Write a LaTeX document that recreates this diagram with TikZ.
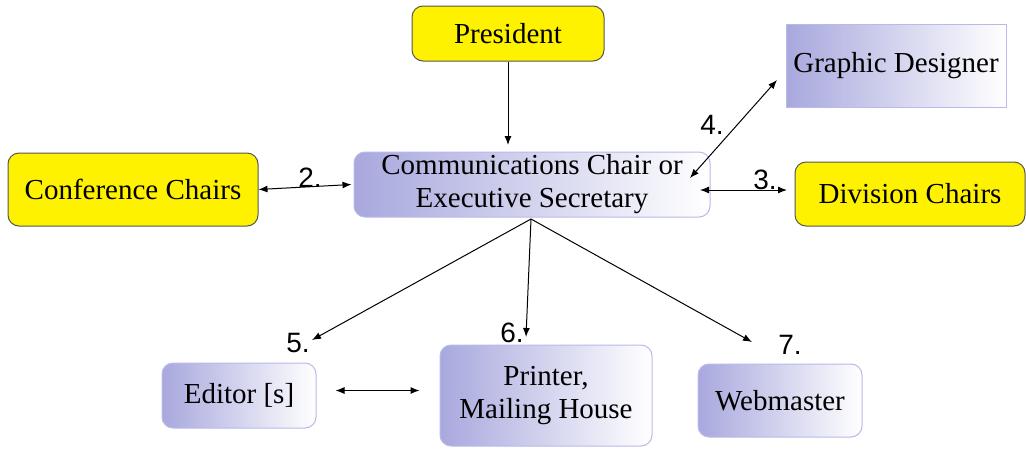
\documentclass[tikz,border=0pt]{standalone}
\usepackage{fontspec}
\setmainfont{Liberation Serif}
\setsansfont{Liberation Sans}
\usetikzlibrary{arrows.meta,positioning,calc}
\definecolor{boxblue}{RGB}{168,168,222}
\definecolor{edgeblue}{RGB}{185,185,235}
\definecolor{edgegray}{RGB}{85,85,85}
\tikzset{
yellowbox/.style = {draw=edgegray, fill=yellow, rectangle, rounded corners=11pt, line width=1pt, font=\fontsize{29}{33}\selectfont, align=center, inner sep=0pt},
bluebox/.style = {draw=edgeblue, left color=boxblue, right color=white, rectangle, rounded corners=11pt, line width=1pt, font=\fontsize{29}{33}\selectfont, align=center, inner sep=0pt},
squarebox/.style = {draw=edgeblue, left color=boxblue, right color=white, rectangle, line width=1pt, font=\fontsize{29}{33}\selectfont, align=center, inner sep=0pt},
num/.style = {font=\sffamily\fontsize{28}{30}\selectfont, inner sep=0pt},
tmp/.style = {coordinate},
link/.style = {line width=1pt, >={Latex[length=9pt,width=7pt]}}
}
\begin{document}
\begin{tikzpicture}[x=1pt, y=-1pt]
\useasboundingbox (0,0) rectangle (1026,448);
% boxes
\node[yellowbox, minimum width=192pt, minimum height=55pt] (president) at (508,33.5) {President};
\node[bluebox, minimum width=356pt, minimum height=65pt] (comm) at (532,184.5) {Communications Chair or\\Executive Secretary};
\node[squarebox, minimum width=220pt, minimum height=83pt] (designer) at (896,65.5) {Graphic Designer};
\node[yellowbox, minimum width=250pt, minimum height=73pt] (confchairs) at (133,189.5) {Conference Chairs};
\node[yellowbox, minimum width=230pt, minimum height=64pt] (divchairs) at (910,194) {Division Chairs};
\node[bluebox, minimum width=154pt, minimum height=65pt] (editor) at (239,395.5) {Editor [s]};
\node[bluebox, minimum width=212pt, minimum height=101pt] (printer) at (546,395.5) {Printer,\\Mailing House};
\node[bluebox, minimum width=164pt, minimum height=73pt] (webmaster) at (780,400.5) {Webmaster};
% arrow ends
\node[tmp] (presend) at (508,145) {};
\node[tmp] (fan) at (531,219) {};
\node[tmp] (commin) at (690,178) {};
\node[tmp] (commright) at (700,190) {};
\node[tmp] (designend) at (777,80) {};
\node[tmp] (divend) at (787,190) {};
\node[tmp] (editorend) at (312,340) {};
\node[tmp] (printerend) at (526,337) {};
\node[tmp] (webend) at (752,342) {};
% connectors
\draw[link,->] (president.south) -- (presend);
\draw[link,<->] (confchairs.east) -- ($(comm.west)+(-2,0)$);
\draw[link,<->] (commright) -- (divend);
\draw[link,<->] (commin) -- (designend);
\draw[link,->] (fan) -- (editorend);
\draw[link,->] (fan) -- (printerend);
\draw[link,->] (fan) -- (webend);
\draw[link,<->] ($(editor.east)+(19,-5)$) -- ($(printer.west)+(-20,-5)$);
% numbers
\node[num] (two) at (310,178) {2.};
\node[num] (three) at (765,180) {3.};
\node[num] (four) at (712,125) {4.};
\node[num] (five) at (298,343) {5.};
\node[num] (six) at (512,333) {6.};
\node[num] (seven) at (790,345) {7.};
\end{tikzpicture}
\end{document}
